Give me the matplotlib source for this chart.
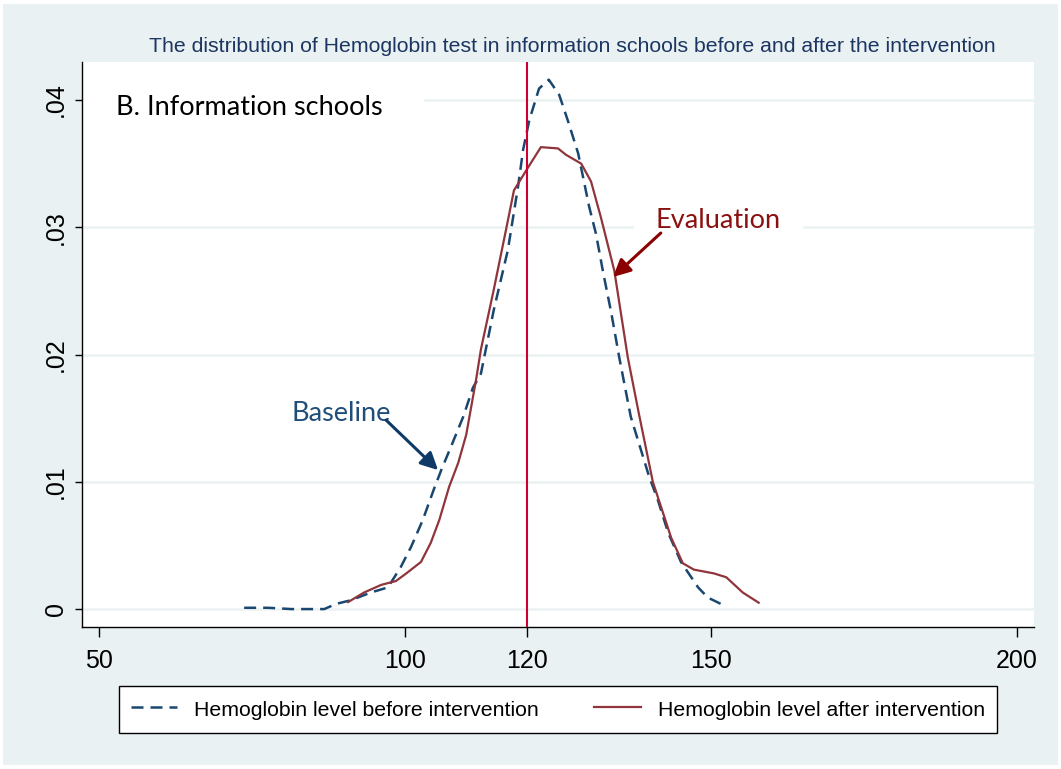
import numpy as np
import matplotlib
matplotlib.use('Agg')
import matplotlib.pyplot as plt
from matplotlib.lines import Line2D
from matplotlib.patches import Rectangle

# Kernel density curves (Hemoglobin level, density)
base_x = [73.7, 77.6, 81.4, 86.8, 88.7, 91.2, 94.4, 97.2, 99.3, 101.0, 102.9, 104.7,
          105.9, 107.8, 109.5, 111.1, 112.4, 114.5, 116.8, 118.5, 119.3, 120.3, 121.9,
          123.5, 125.2, 126.6, 128.3, 130.1, 131.2, 132.4, 133.7, 135.0, 136.9, 139.9,
          141.3, 143.0, 145.1, 147.9, 149.5, 152.5]
base_y = [0.0001, 0.0001, 0.0000, 0.0000, 0.0004, 0.0007, 0.0013, 0.0017, 0.0033, 0.0049,
          0.0070, 0.0094, 0.0109, 0.0131, 0.0151, 0.0174, 0.0185, 0.0235, 0.0282, 0.0333,
          0.0361, 0.0384, 0.0409, 0.0416, 0.0404, 0.0384, 0.0358, 0.0316, 0.0295, 0.0264,
          0.0233, 0.0198, 0.0151, 0.0104, 0.0086, 0.0060, 0.0037, 0.0017, 0.0009, 0.0002]

eval_x = [90.7, 93.3, 96.1, 98.5, 100.2, 102.6, 104.2, 105.6, 107.2, 108.7, 110.0, 111.6,
          112.4, 114.5, 116.5, 117.8, 120.1, 122.2, 125.0, 126.3, 128.8, 130.4, 132.0,
          134.2, 136.4, 138.2, 140.5, 143.5, 145.4, 147.2, 150.5, 152.5, 155.2, 157.8]
eval_y = [0.00055, 0.0013, 0.0019, 0.0022, 0.0028, 0.0037, 0.0052, 0.0070, 0.0096, 0.0115,
          0.0137, 0.0180, 0.0204, 0.0251, 0.0298, 0.0329, 0.0347, 0.0363, 0.0362, 0.0357,
          0.0350, 0.0336, 0.0308, 0.0266, 0.0198, 0.0154, 0.0100, 0.0056, 0.0036, 0.0031,
          0.0028, 0.0025, 0.0013, 0.0005]

cutoff = 120
xticks = [50, 100, 120, 150, 200]
yticks = [0, 0.01, 0.02, 0.03, 0.04]
ytick_labels = ['0', '.01', '.02', '.03', '.04']

title = 'The distribution of Hemoglobin test in information schools before and after the intervention'
labels = ['Hemoglobin level before intervention', 'Hemoglobin level after intervention']

bg = '#e9f1f3'
blue = '#1a476f'
red = '#90353b'

fig = plt.figure(figsize=(10.61, 7.69), dpi=100, facecolor='white')
fig.patches.append(Rectangle((3 / 1061, 4 / 769), 1055 / 1061, 761 / 769,
                             transform=fig.transFigure, facecolor=bg, edgecolor='none', zorder=-10))

ax = fig.add_axes([82 / 1061, 1 - 627 / 769, (1034 - 82) / 1061, (627 - 62) / 769])
ax.set_facecolor('white')

ax.plot(base_x, base_y, color=blue, lw=1.8, dashes=(4.8, 2.8), zorder=3)
ax.plot(eval_x, eval_y, color=red, lw=1.6, zorder=3)
ax.axvline(cutoff, color='#cc0033', lw=1.5, zorder=4)

ax.set_xlim(47.2, 202.8)
ax.set_ylim(-0.00141, 0.04299)

ax.set_xticks(xticks)
ax.set_xticklabels([str(t) for t in xticks], family='Liberation Sans', fontsize=18)
ax.set_yticks(yticks)
ax.set_yticklabels(ytick_labels, family='Liberation Sans', fontsize=18, rotation=90, va='center')
ax.tick_params(axis='x', length=7, width=1, pad=9)
ax.tick_params(axis='y', length=5, width=1, pad=5)

ax.grid(axis='y', color='#eaf2f3', lw=1.8, zorder=0)
ax.set_axisbelow(True)
for s in ['top', 'right']:
    ax.spines[s].set_visible(False)
for s in ['left', 'bottom']:
    ax.spines[s].set_linewidth(1.0)

ax.text(52.8, 0.03945, 'B. Information schools', family='Lato', fontsize=19.5, va='center',
        color='black', zorder=1, clip_on=True,
        bbox=dict(boxstyle='square,pad=1.5', fc='white', ec='none'))
ax.text(141.0, 0.0305, 'Evaluation', family='Lato', fontsize=19.5, va='center',
        color='#8b1010', zorder=1, clip_on=True,
        bbox=dict(boxstyle='square,pad=0.8', fc='white', ec='none'))
ax.text(81.4, 0.0154, 'Baseline', family='Lato', fontsize=19.5, va='center',
        color='#1f4e79', zorder=1,
        bbox=dict(boxstyle='square,pad=0.3', fc='white', ec='none'))

ax.annotate('', xy=(105.4, 0.01092), xytext=(96.9, 0.01485),
            arrowprops=dict(arrowstyle='-|>', color='#0f3a68', lw=2.2, mutation_scale=26,
                            shrinkA=0, shrinkB=0), zorder=5)
ax.annotate('', xy=(134.0, 0.0261), xytext=(141.8, 0.02955),
            arrowprops=dict(arrowstyle='-|>', color='#8b0000', lw=2.2, mutation_scale=26,
                            shrinkA=0, shrinkB=0), zorder=5)

fig.text(572 / 1061, 1 - 46 / 769, title, family='Liberation Sans', fontsize=15.3,
         color='#1c3661', ha='center', va='center')

handles = [Line2D([], [], color=blue, lw=1.8, dashes=(4.8, 2.8)),
           Line2D([], [], color=red, lw=1.6)]
leg = fig.legend(handles, labels, loc='upper left', ncol=2,
                 bbox_to_anchor=(119 / 1061, 1 - 686 / 769),
                 frameon=True, fancybox=False, edgecolor='black', facecolor='white',
                 framealpha=1, borderaxespad=0, borderpad=0.55, handlelength=2.2,
                 handleheight=1.3, handletextpad=0.8, columnspacing=2.6,
                 prop={'family': 'Liberation Sans', 'size': 15.3})
leg.get_frame().set_linewidth(1.0)

fig.savefig('out.png', dpi=100, facecolor=fig.get_facecolor())
